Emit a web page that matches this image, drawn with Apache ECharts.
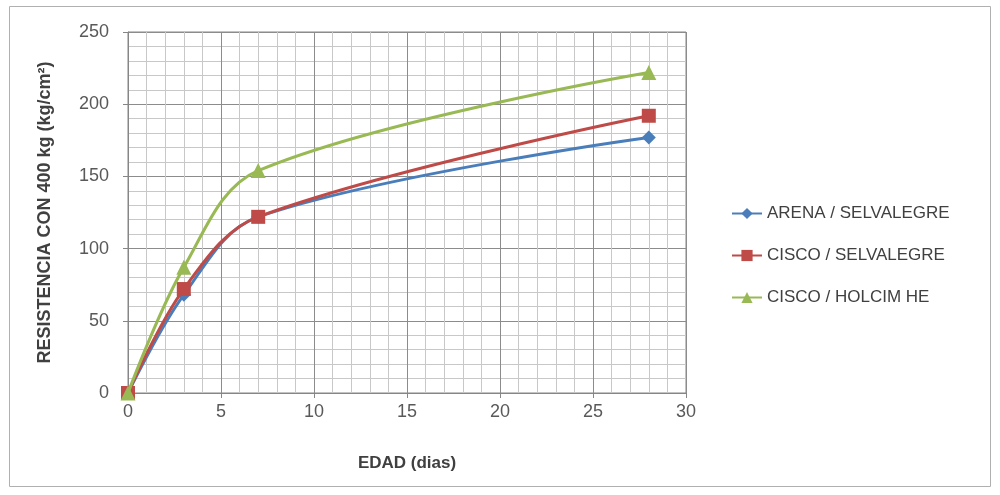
<!DOCTYPE html>
<html><head><meta charset="utf-8">
<script src="https://cdn.jsdelivr.net/npm/echarts@6/dist/echarts.min.js"></script>
<style>html,body{margin:0;padding:0;background:#fff}#c{width:1000px;height:495px}</style>
</head><body><div id="c"></div>
<script>
const edad = [0, 3, 7, 28];
const arenaSelvalegre = [0, 68, 122, 177];
const ciscoSelvalegre = [0, 72, 122, 192];
const ciscoHolcimHE = [0, 87, 154, 222];
const seriesNames = ['ARENA / SELVALEGRE', 'CISCO / SELVALEGRE', 'CISCO / HOLCIM HE'];
const xAxisName = 'EDAD (dias)';
const yAxisName = 'RESISTENCIA CON 400 kg (kg/cm²)';

const font = 'Liberation Sans, Arial, sans-serif';
const colors = ['#4a7ebb', '#be4b48', '#98b954'];
const symbols = ['diamond', 'rect', 'triangle'];
const sizes = [14, 14, 15];
const data = [arenaSelvalegre, ciscoSelvalegre, ciscoHolcimHE];

const chart = echarts.init(document.getElementById('c'));
chart.setOption({
  animation: false,
  graphic: [{type: 'rect', shape: {x: 9.5, y: 6.5, width: 981, height: 480}, style: {fill: 'none', stroke: '#b0b0b0', lineWidth: 1}, z: -1}],
  grid: {left: 128, right: 314, top: 32, bottom: 102, show: true, borderColor: '#868686', borderWidth: 1},
  legend: {
    orient: 'vertical', left: 726, top: 200, itemGap: 25, itemWidth: 30, itemHeight: 14,
    textStyle: {fontFamily: font, fontSize: 17, color: '#404040'},
    data: seriesNames
  },
  xAxis: {
    type: 'value', min: 0, max: 30, interval: 5,
    name: xAxisName, nameLocation: 'middle', nameGap: 62,
    nameTextStyle: {fontFamily: font, fontSize: 17, fontWeight: 'bold', color: '#404040'},
    axisLine: {show: true, lineStyle: {color: '#868686'}},
    axisTick: {show: true, length: 5, lineStyle: {color: '#868686'}},
    axisLabel: {fontFamily: font, fontSize: 18, color: '#595959', margin: 10},
    splitLine: {show: true, lineStyle: {color: '#8c8c8c', width: 1}},
    minorTick: {show: false, splitNumber: 5},
    minorSplitLine: {show: true, lineStyle: {color: '#c8c8c8', width: 1}}
  },
  yAxis: {
    type: 'value', min: 0, max: 250, interval: 50,
    name: yAxisName, nameLocation: 'middle', nameGap: 74, nameRotate: 90,
    nameTextStyle: {fontFamily: font, fontSize: 18, fontWeight: 'bold', color: '#404040'},
    axisLine: {show: true, lineStyle: {color: '#868686'}},
    axisTick: {show: true, length: 5, lineStyle: {color: '#868686'}},
    axisLabel: {fontFamily: font, fontSize: 18, color: '#595959', margin: 19},
    splitLine: {show: true, lineStyle: {color: '#8c8c8c', width: 1}},
    minorTick: {show: false, splitNumber: 5},
    minorSplitLine: {show: true, lineStyle: {color: '#c8c8c8', width: 1}}
  },
  series: seriesNames.map((n, i) => ({
    name: n, type: 'line', smooth: 0.35,
    data: edad.map((x, j) => [x, data[i][j]]),
    symbol: symbols[i], symbolSize: sizes[i],
    lineStyle: {color: colors[i], width: 3},
    itemStyle: {color: colors[i]},
    z: 3 + i
  }))
});
</script></body></html>
